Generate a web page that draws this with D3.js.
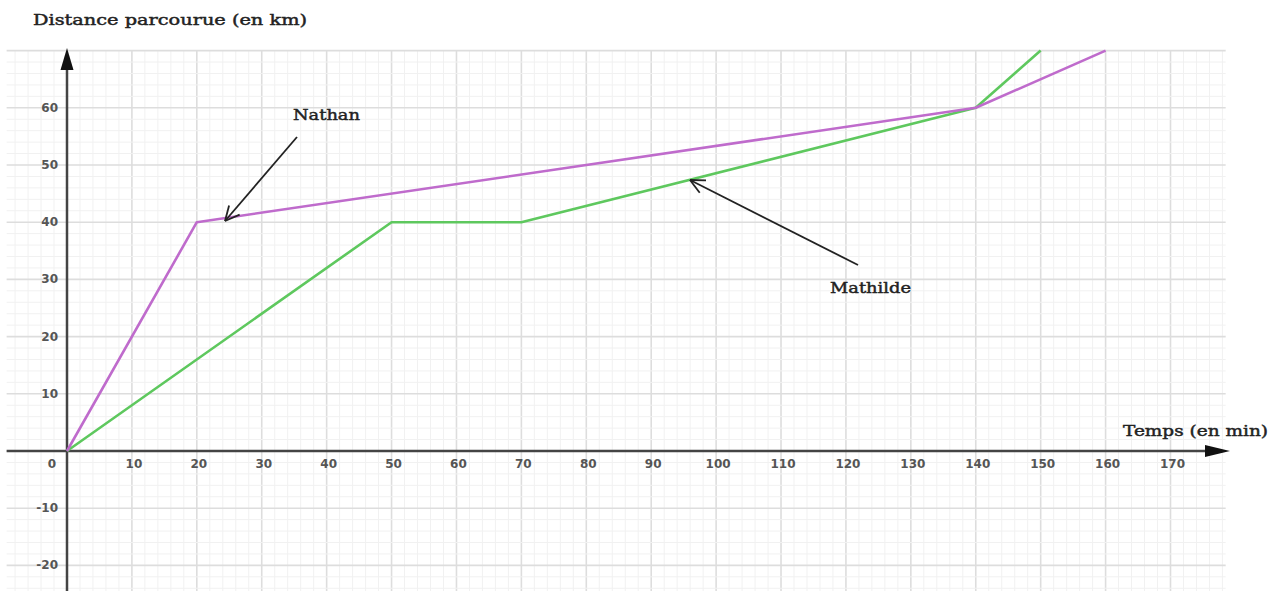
<!DOCTYPE html>
<html><head><meta charset="utf-8">
<script src="https://cdn.jsdelivr.net/npm/d3@7/dist/d3.min.js"></script>
<style>body{margin:0;background:#fff}svg{display:block}</style>
</head><body>
<svg id="c" width="1278" height="591"></svg>
<script>
const xTicks = [10,20,30,40,50,60,70,80,90,100,110,120,130,140,150,160,170];
const yTicks = [-20,-10,10,20,30,40,50,60];
const nathanT = [0,20,140,160];
const nathanD = [0,40,60,70];
const mathildeT = [0,50,70,140,150];
const mathildeD = [0,40,40,60,70];
const xTitle = "Temps (en min)";
const yTitle = "Distance parcourue (en km)";
const labelNathan = "Nathan";
const labelMathilde = "Mathilde";

const svg = d3.select("#c");
const x = d3.scaleLinear().domain([0,170]).range([67,1170.5]);
const y = d3.scaleLinear().domain([0,60]).range([451,107.8]);
const xMin=-9.3, xMax=178.5, yMin=-25, yMax=70;

// grid
const g = svg.append("g");
g.selectAll(".vmin").data(d3.range(-8,xMax,2)).join("line")
 .attr("x1",d=>x(d)).attr("x2",d=>x(d)).attr("y1",y(yMax)).attr("y2",y(yMin))
 .attr("stroke",d=>d%10===0?"#dddddd":"#f1f1f1").attr("stroke-width",d=>d%10===0?1.6:1);
g.selectAll(".hmin").data(d3.range(-24,yMax+0.1,2)).join("line")
 .attr("y1",d=>y(d)).attr("y2",d=>y(d)).attr("x1",x(xMin)).attr("x2",x(xMax))
 .attr("stroke",d=>d%10===0?"#dddddd":"#f1f1f1").attr("stroke-width",d=>d%10===0?1.6:1);

// axes
const axC="#444";
svg.append("line").attr("x1",x(xMin)).attr("x2",1208).attr("y1",y(0)).attr("y2",y(0)).attr("stroke",axC).attr("stroke-width",2.5);
svg.append("line").attr("x1",x(0)).attr("x2",x(0)).attr("y1",591).attr("y2",66).attr("stroke",axC).attr("stroke-width",2.5);
svg.append("path").attr("d",`M1230,${y(0)} L1205,${y(0)-6} L1205,${y(0)+6} Z`).attr("fill","#111");
svg.append("path").attr("d",`M${x(0)},48 L${x(0)-6.5},70 L${x(0)+6.5},70 Z`).attr("fill","#111");

// tick labels
const tf = "'DejaVu Sans', sans-serif";
svg.append("g").selectAll("text").data(xTicks).join("text")
 .attr("x",d=>x(d)+2).attr("y",y(0)+17).attr("text-anchor","middle")
 .attr("font-family",tf).attr("font-size",12).attr("fill","#555").attr("font-weight","bold").text(d=>d);
svg.append("text").attr("x",52).attr("y",y(0)+17).attr("text-anchor","middle")
 .attr("font-family",tf).attr("font-size",12).attr("fill","#555").attr("font-weight","bold").text("0");
svg.append("g").selectAll("text").data(yTicks).join("text")
 .attr("x",58).attr("y",d=>y(d)+4).attr("text-anchor","end")
 .attr("font-family",tf).attr("font-size",12).attr("fill","#555").attr("font-weight","bold").text(d=>d<0?"-"+(-d):d);

// series
const line = d3.line().x(d=>x(d[0])).y(d=>y(d[1]));
svg.append("path").datum(d3.zip(mathildeT,mathildeD)).attr("d",line)
 .attr("fill","none").attr("stroke","#5ec85e").attr("stroke-width",2.6).attr("stroke-linejoin","round");
svg.append("path").datum(d3.zip(nathanT,nathanD)).attr("d",line)
 .attr("fill","none").attr("stroke","#bf6bcc").attr("stroke-width",2.6).attr("stroke-linejoin","round");

// titles
const sf = "'DejaVu Serif', serif";
function title(tx,px,py,w){
  svg.append("text").attr("x",px).attr("y",py).attr("font-family",sf).attr("font-size",15).attr("fill","#222")
   .attr("stroke","#222").attr("stroke-width",0.45)
   .attr("textLength",w).attr("lengthAdjust","spacingAndGlyphs").text(tx);
}
title(yTitle,33,25,274);
title(xTitle,1123,436,145);
title(labelNathan,293,120,67);
title(labelMathilde,830,293,81);

// annotation arrows
function arrow(x1,y1,x2,y2){
  svg.append("line").attr("x1",x1).attr("y1",y1).attr("x2",x2).attr("y2",y2).attr("stroke","#222").attr("stroke-width",1.8);
  const a=Math.atan2(y2-y1,x2-x1), L=16, s=0.45;
  [a+Math.PI-s,a+Math.PI+s].forEach(b=>{
    svg.append("line").attr("x1",x2).attr("y1",y2).attr("x2",x2+L*Math.cos(b)).attr("y2",y2+L*Math.sin(b))
      .attr("stroke","#222").attr("stroke-width",1.8);
  });
}
arrow(297,137,225,221);
arrow(858,265,690,180);
</script>
</body></html>
